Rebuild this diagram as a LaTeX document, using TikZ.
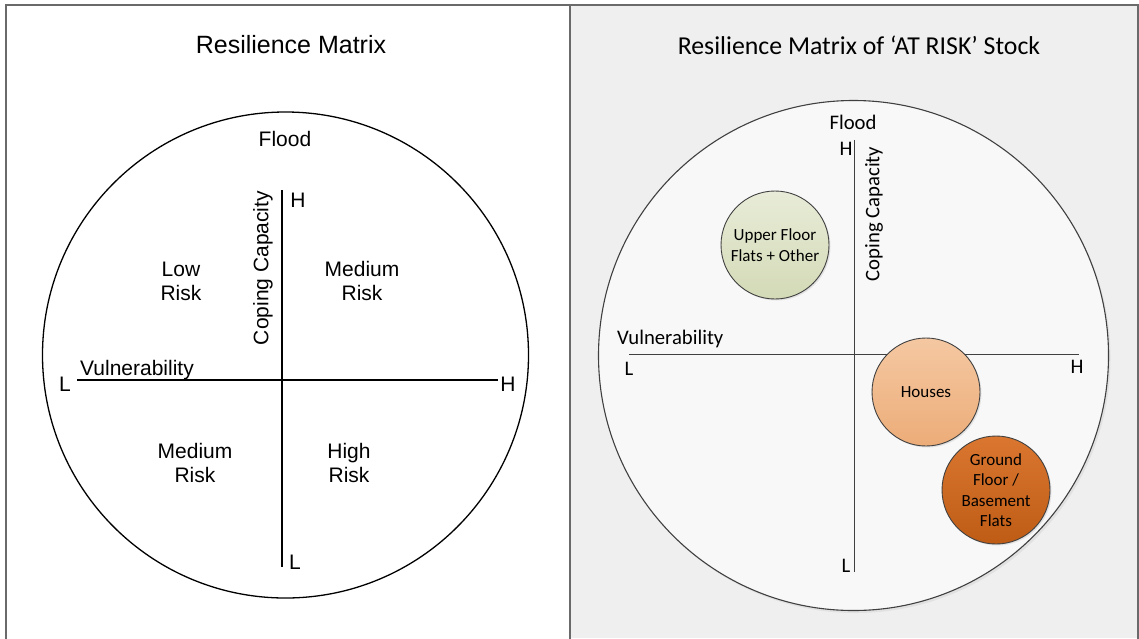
\documentclass[tikz,border=0pt]{standalone}
\usepackage{fontspec}
\setmainfont{Liberation Sans}
\newfontfamily\calfont{Carlito}
\usetikzlibrary{shadows}
\definecolor{panelgray}{HTML}{EFEFEF}
\definecolor{framegray}{HTML}{6A6A6A}
\definecolor{linegray}{HTML}{404040}
\definecolor{greenA}{HTML}{E8ECD8}
\definecolor{greenB}{HTML}{D3DAB6}
\definecolor{peachA}{HTML}{F5C8A2}
\definecolor{peachB}{HTML}{ECAC78}
\definecolor{orangeA}{HTML}{DA7630}
\definecolor{orangeB}{HTML}{BE5C16}
\tikzset{
  ltitle/.style={font=\fontsize{25}{30}\selectfont, inner sep=0pt},
  llabel/.style={font=\fontsize{21}{24}\selectfont, inner sep=0pt, align=center},
  rtitle/.style={font=\calfont\fontsize{25.8}{30}\selectfont, inner sep=0pt},
  rlabel/.style={font=\calfont\fontsize{20.7}{24}\selectfont, inner sep=0pt},
  bubble/.style={circle, draw=linegray, line width=0.9pt, minimum size=108pt, inner sep=0pt,
     align=center, font=\calfont\fontsize{17}{20.5}\selectfont,
     drop shadow={opacity=0.18, shadow xshift=1.5pt, shadow yshift=-1.5pt}},
  laxis/.style={line width=1.1pt, draw=black},
  raxis/.style={line width=1pt, draw=linegray},
}
\begin{document}
\begin{tikzpicture}[x=1pt,y=-1pt]
\useasboundingbox (0,0) rectangle (1139,638);
\fill[white] (0,0) rectangle (1139,638);
\fill[panelgray] (570,5) rectangle (1139,638);
\draw[line width=1.2pt, draw=framegray] (6,645) -- (6,5) -- (1138,5) -- (1138,645);
\draw[line width=1.2pt, draw=framegray] (570,5) -- (570,645);

% ---------- left panel ----------
\node[ltitle] (ltit) at (291,45) {Resilience Matrix};
\node[circle, draw=black, line width=1.3pt, minimum size=486pt, inner sep=0pt] (lcirc) at (285.5,355) {};
\coordinate (lxl) at (77,380);
\coordinate (lxr) at (498,380);
\coordinate (lyt) at (282,190);
\coordinate (lyb) at (282,567);
\draw[laxis] (lxl) -- (lxr);
\draw[laxis] (lyt) -- (lyb);
\node[llabel] (lflood) at (285,139) {Flood};
\node[llabel] (lH1) at (298,200) {H};
\node[llabel] (lL1) at (295,562) {L};
\node[llabel] (lL2) at (65,384) {L};
\node[llabel] (lH2) at (508,384) {H};
\node[llabel, anchor=west] (lvul) at (80,370) {Vulnerability};
\node[llabel, rotate=90] (lcop) at (263,268) {Coping Capacity};
\node[llabel] (llow) at (181,281) {Low\\Risk};
\node[llabel] (lmed1) at (362,281) {Medium\\Risk};
\node[llabel] (lmed2) at (195,463) {Medium\\Risk};
\node[llabel] (lhigh) at (349,463) {High\\Risk};

% ---------- right panel ----------
\node[rtitle] (rtit) at (859,45) {Resilience Matrix of ‘AT RISK’ Stock};
\node[circle, draw=linegray, line width=1.1pt, fill=white!55!panelgray, minimum size=510pt, inner sep=0pt,
      drop shadow={opacity=0.12, shadow xshift=2pt, shadow yshift=-2.5pt}] (rcirc) at (853.5,355.5) {};
\coordinate (rxl) at (629,354.5);
\coordinate (rxr) at (1079,354.5);
\coordinate (ryt) at (854,140);
\coordinate (ryb) at (854,572);
\draw[raxis] (rxl) -- (rxr);
\draw[raxis] (ryt) -- (ryb);
\node[rlabel] (rflood) at (853,122) {Flood};
\node[rlabel] (rH1) at (846,149) {H};
\node[rlabel] (rL1) at (846,566) {L};
\node[rlabel] (rL2) at (629,369) {L};
\node[rlabel] (rH2) at (1077,367) {H};
\node[rlabel, anchor=west] (rvul) at (617,339) {Vulnerability};
\node[rlabel, rotate=90] (rcop) at (874,214) {Coping Capacity};

\node[bubble, top color=greenA, bottom color=greenB] (upper) at (775,245) {Upper Floor\\Flats + Other};
\node[bubble, top color=peachA, bottom color=peachB] (houses) at (926,392) {Houses};
\node[bubble, top color=orangeA, bottom color=orangeB] (ground) at (996,490) {Ground\\Floor /\\Basement\\Flats};
\end{tikzpicture}
\end{document}
